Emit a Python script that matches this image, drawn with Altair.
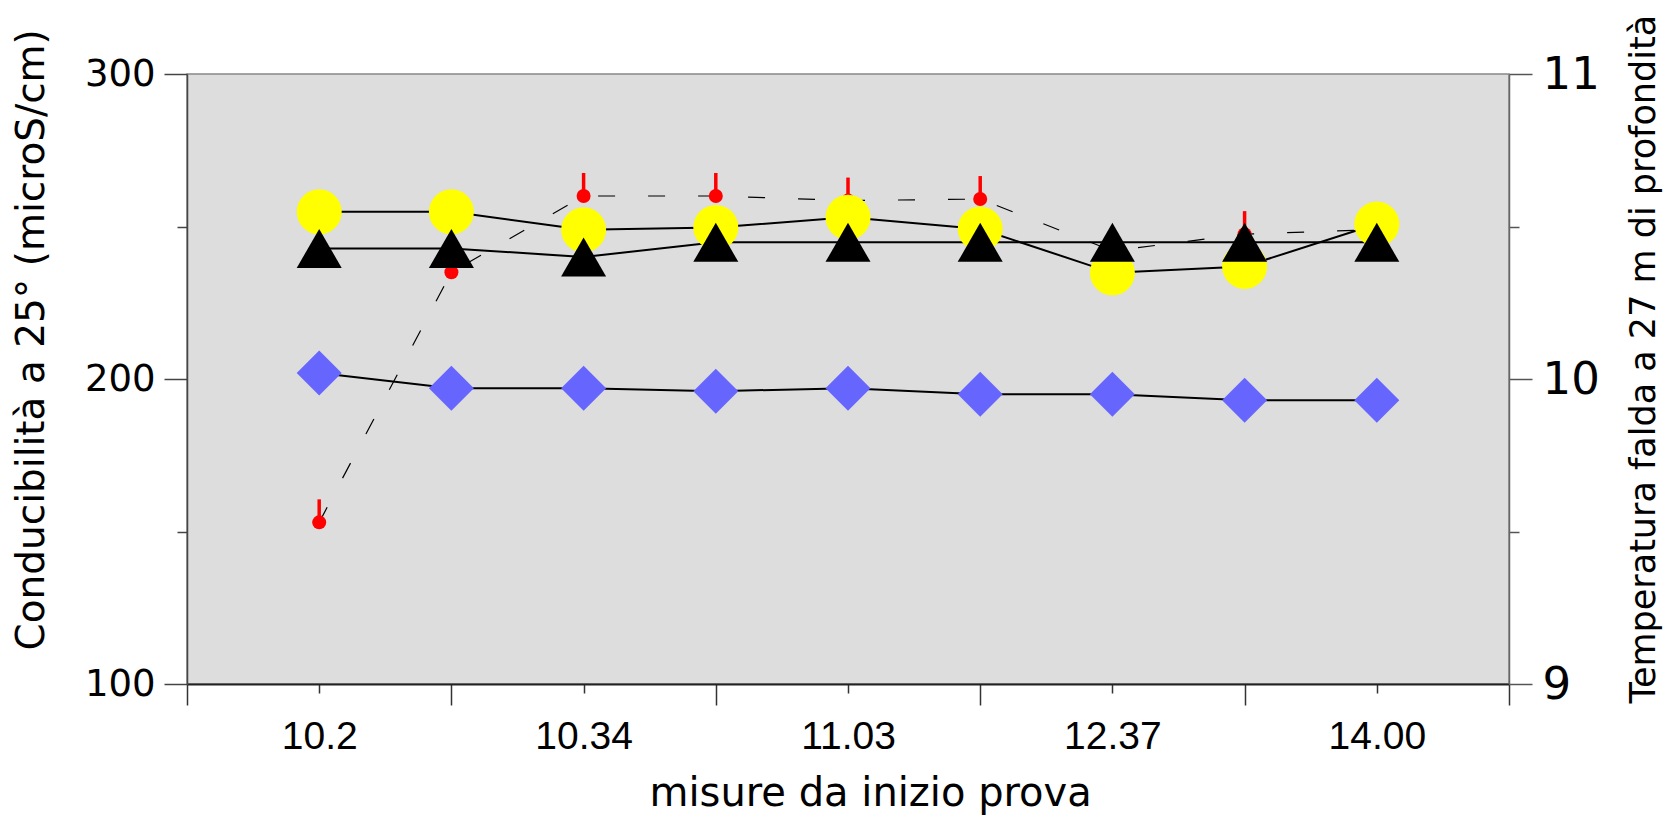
import json
import altair as alt
import pandas as pd

# ---- data ----
positions = [1, 2, 3, 4, 5, 6, 7, 8, 9]
measure_labels = ["10.2", "", "10.34", "", "11.03", "", "12.37", "", "14.00"]
cond_circles = [254.8, 254.8, 248.9, 249.7, 253.0, 249.2, 234.8, 236.9, 250.8]
cond_triangles = [242.8, 242.8, 240.0, 244.8, 244.8, 244.8, 244.8, 244.8, 244.8]
cond_diamonds = [202.0, 197.0, 197.0, 196.0, 197.0, 195.0, 195.0, 193.0, 193.0]
temperature = [9.53, 10.35, 10.60, 10.60, 10.585, 10.59, 10.42, 10.475, 10.49]

x_ticks = list(range(0, 11))
left_ticks = [100, 150, 200, 250, 300]
right_ticks = [9, 9.5, 10, 10.5, 11]

df = pd.DataFrame({
    "pos": positions,
    "label": measure_labels,
    "circ": cond_circles,
    "tri": cond_triangles,
    "dia": cond_diamonds,
    "temp": temperature,
})

x_label_list = [""] + measure_labels + [""]
x_label_expr = json.dumps(x_label_list) + "[datum.value]"

x_axis = alt.Axis(
    values=x_ticks, labelExpr=x_label_expr,
    tickSize={"condition": {"test": "datum.value % 2 === 0", "value": 21}, "value": 9},
    labelPadding=55, labelBaseline="alphabetic", labelAngle=0,
    labelFont="Liberation Sans", labelFontSize=39, labelColor="black",
    labelFlush=False, labelOverlap=False,
    domainColor="#222222", domainWidth=2, tickColor="#333333", tickWidth=1.5,
    grid=False,
    title="misure da inizio prova", titleFont="DejaVu Sans", titleFontSize=40,
    titleFontWeight="normal", titleColor="black",
    titleX=462, titleY=121, titleAlign="left", titleBaseline="alphabetic",
)
x_scale = alt.Scale(domain=[0, 10], nice=False, zero=False)
x_enc = alt.X("pos:Q", scale=x_scale, axis=x_axis)

left_scale = alt.Scale(domain=[100, 300], nice=False, zero=False)
left_axis = alt.Axis(
    orient="left", values=left_ticks,
    labelExpr="datum.value % 100 === 0 ? format(datum.value, 'd') : ''",
    tickSize={"condition": {"test": "datum.value % 100 === 0", "value": 23}, "value": 10},
    labelPadding=9, labelFont="DejaVu Sans", labelFontSize=37, labelColor="black",
    labelFlush=False, labelOverlap=False,
    domainColor="#444444", domainWidth=1.5, tickColor="#444444", tickWidth=1.5,
    grid=False,
    title="Conducibilità a 25° (microS/cm)", titleFont="DejaVu Sans", titleFontSize=39,
    titleFontWeight="normal", titleColor="black", titleAngle=270,
    titleX=-144, titleY=576, titleAlign="left", titleBaseline="alphabetic",
)

right_scale = alt.Scale(domain=[9, 11], nice=False, zero=False)
right_axis = alt.Axis(
    orient="right", values=right_ticks,
    labelExpr="datum.value % 1 === 0 ? format(datum.value, 'd') : ''",
    tickSize={"condition": {"test": "datum.value % 1 === 0", "value": 23}, "value": 10},
    labelPadding=10, labelFont="DejaVu Sans", labelFontSize=45, labelColor="black",
    labelFlush=False, labelOverlap=False,
    domainColor="#666666", domainWidth=1.5, tickColor="#555555", tickWidth=1.5,
    grid=False,
    title="Temperatura falda a 27 m di profondità", titleFont="DejaVu Sans", titleFontSize=35,
    titleFontWeight="normal", titleColor="black", titleAngle=270,
    titleX=145, titleY=629, titleAlign="left", titleBaseline="alphabetic",
)

base = alt.Chart(df)

def ly(field):
    return alt.Y(f"{field}:Q", scale=left_scale, axis=left_axis)

ry = alt.Y("temp:Q", scale=right_scale, axis=right_axis)

# temperature group (drawn below the conductivity markers)
temp_line = base.mark_line(color="black", strokeWidth=1.2, strokeDash=[17, 33]).encode(x=x_enc, y=ry)
temp_stem = base.mark_rule(color="#FF0000", strokeWidth=3.5, y2Offset=-23).encode(
    x=x_enc, y=ry, y2=alt.Y2("temp:Q"))
temp_dot = base.mark_point(shape="circle", filled=True, size=196, color="#FF0000",
                           opacity=1, strokeWidth=0).encode(x=x_enc, y=ry)
right_group = alt.layer(temp_line, temp_stem, temp_dot)

circ_line = base.mark_line(color="black", strokeWidth=2).encode(x=x_enc, y=ly("circ"))
tri_line = base.mark_line(color="black", strokeWidth=2).encode(x=x_enc, y=ly("tri"))
dia_line = base.mark_line(color="black", strokeWidth=2).encode(x=x_enc, y=ly("dia"))
circ_pts = base.mark_point(shape="circle", filled=True, size=2025, color="#FFFF00",
                           opacity=1, strokeWidth=0).encode(x=x_enc, y=ly("circ"))
tri_pts = base.mark_point(shape="triangle-up", filled=True, size=2025, color="black",
                          opacity=1, strokeWidth=0).encode(x=x_enc, y=ly("tri"))
dia_pts = base.mark_point(shape="diamond", filled=True, size=2025, color="#6666FF",
                          opacity=1, strokeWidth=0).encode(x=x_enc, y=ly("dia"))
left_group = alt.layer(circ_line, tri_line, dia_line, circ_pts, tri_pts, dia_pts)

chart = alt.layer(right_group, left_group).resolve_scale(y="independent").properties(
    width=1322, height=610,
    autosize=alt.AutoSizeParams(type="none"),
    padding={"left": 187, "top": 74, "right": 157, "bottom": 134},
    background="white",
).configure_view(fill="#DDDDDD", stroke="#888888", strokeWidth=1.5)

chart.save("out.html", embed_options={"renderer": "svg", "actions": False})
